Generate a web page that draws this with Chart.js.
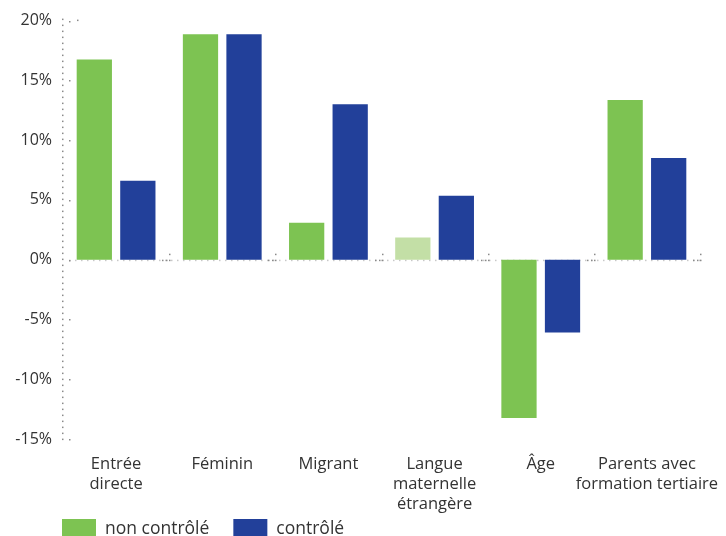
<!DOCTYPE html>
<html lang="fr">
<head>
    <meta charset="UTF-8">
    <title>Effets</title>
    <script src="https://cdn.jsdelivr.net/npm/chart.js"></script>
    <style>
        html, body { margin: 0; padding: 0; background: #fff; overflow: hidden; }
        #wrap { width: 726px; height: 536px; }
    </style>
</head>
<body>
    <div id="wrap"><canvas id="chart" width="726" height="536"></canvas></div>
    <script>
        // données
        const categories = [
            ["Entrée", "directe"],
            ["Féminin"],
            ["Migrant"],
            ["Langue", "maternelle", "étrangère"],
            ["Âge"],
            ["Parents avec", "formation tertiaire"]
        ];
        const nonControle = [16.75, 18.85, 3.1, 1.85, -13.25, 13.35];
        const controle = [6.6, 18.85, 13.0, 5.35, -6.1, 8.5];
        const nonSignificatif = [false, false, false, true, false, false];
        const yTicks = [20, 15, 10, 5, 0, -5, -10, -15];

        const GREEN = "#7dc352";
        const GREEN_LIGHT = "#c3dfa6";
        const BLUE = "#22409a";
        const DOT = "#8a8a8a";
        const FONT = "'Open Sans', sans-serif";

        // axes pointillés, repères et légende
        const decor = {
            id: "decor",
            beforeDatasetsDraw(chart) {
                const { ctx, chartArea: a, scales: { x, y } } = chart;
                const y0 = y.getPixelForValue(0);
                ctx.save();
                ctx.fillStyle = "#c8c8c8";
                for (let px = a.left + 6; px < a.right; px += 6) ctx.fillRect(px, y0, 1.5, 1.5);
                ctx.fillStyle = DOT;
                // repères entre catégories
                for (let i = 0; i < categories.length; i++) {
                    const bx = Math.round(x.getPixelForValue(i) + (x.getPixelForValue(1) - x.getPixelForValue(0)) / 2);
                    ctx.fillRect(bx - 7, y0, 1.5, 1.5);
                    ctx.fillRect(bx - 3, y0, 1.5, 1.5);
                    ctx.fillRect(bx, y0, 1.5, 1.5);
                    ctx.fillRect(bx, y0 - 6, 1.5, 1.5);
                }
                // axe vertical
                for (let py = a.top - 2; py < a.bottom + 2; py += 6) ctx.fillRect(a.left - 1, py, 1.5, 1.5);
                yTicks.forEach(v => {
                    const py = Math.round(y.getPixelForValue(v));
                    ctx.fillRect(a.left + 6, py, 1.5, 1.5);
                });
                ctx.fillRect(a.left + 14, a.top - 1, 1.5, 1.5);
                ctx.restore();
            },
            afterDraw(chart) {
                const { ctx, chartArea: a } = chart;
                ctx.save();
                ctx.font = "17.5px " + FONT;
                ctx.textBaseline = "middle";
                let cx = a.left - 1;
                chart.data.datasets.forEach(ds => {
                    ctx.fillStyle = ds.legendColor;
                    ctx.fillRect(cx, 519, 34, 20);
                    ctx.fillStyle = "#333";
                    ctx.fillText(ds.label, cx + 43, 529);
                    cx += 43 + ctx.measureText(ds.label).width + 24;
                });
                ctx.restore();
            }
        };

        new Chart(document.getElementById("chart"), {
            type: "bar",
            data: {
                labels: categories,
                datasets: [
                    {
                        label: "non contrôlé",
                        data: nonControle,
                        backgroundColor: nonSignificatif.map(n => n ? GREEN_LIGHT : GREEN),
                        legendColor: GREEN
                    },
                    {
                        label: "contrôlé",
                        data: controle,
                        backgroundColor: BLUE,
                        legendColor: BLUE
                    }
                ]
            },
            plugins: [decor],
            options: {
                responsive: false,
                animation: false,
                categoryPercentage: 0.82,
                barPercentage: 0.81,
                layout: { padding: { top: 19, right: 26, bottom: 0, left: 0 } },
                plugins: {
                    legend: { display: false },
                    tooltip: { enabled: false }
                },
                scales: {
                    x: {
                        grid: { display: false, drawTicks: false },
                        border: { display: false },
                        ticks: {
                            color: "#333",
                            padding: 15,
                            maxRotation: 0,
                            autoSkip: false,
                            font: { family: FONT, size: 16.5, lineHeight: 1.22 }
                        },
                        afterFit(scale) {
                            scale.height = 97;
                            scale.paddingLeft = 0;
                            scale.paddingRight = 0;
                        }
                    },
                    y: {
                        min: -15,
                        max: 20,
                        grid: { display: false, drawTicks: false },
                        border: { display: false },
                        ticks: {
                            stepSize: 5,
                            color: "#333",
                            padding: 11,
                            font: { family: FONT, size: 16 },
                            callback: v => v + "%"
                        },
                        afterFit(scale) { scale.width = 63; }
                    }
                }
            }
        });
    </script>
</body>
</html>
